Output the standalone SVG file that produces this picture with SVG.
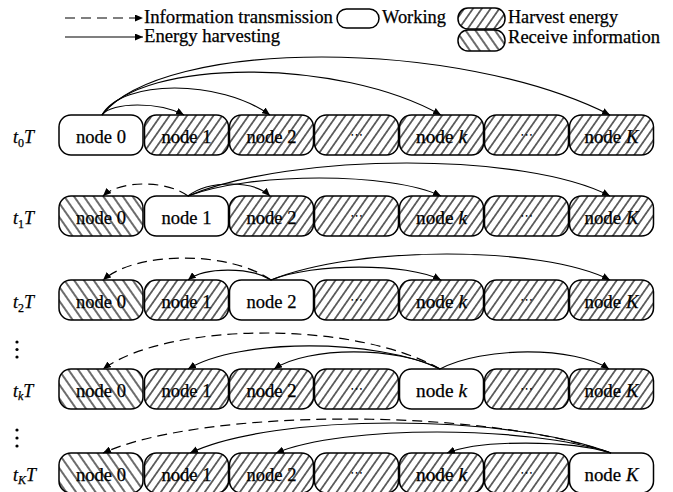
<svg xmlns="http://www.w3.org/2000/svg" width="673" height="492" viewBox="0 0 673 492">
<defs>
<style>
.box{stroke:#000;stroke-width:1.5}
.w{fill:#fff}
.h{fill:url(#fwd)}
.r{fill:url(#bwd)}
.t{font-family:"Liberation Serif","Times New Roman",serif;font-size:18px;fill:#000;stroke:#000;stroke-width:0.25}
.lbl{text-anchor:middle}
.el{font-family:"DejaVu Sans",sans-serif;font-size:13px;text-anchor:middle;fill:#000}
.i{font-style:italic}
.c{fill:none;stroke:#000;stroke-width:1.2;marker-end:url(#ah)}
.d{stroke-dasharray:10 6}
</style>
<pattern id="fwd" patternUnits="userSpaceOnUse" width="7.2" height="10" patternTransform="rotate(35)">
<rect width="7.2" height="10" fill="#fff"/>
<line x1="3.6" y1="0" x2="3.6" y2="10" stroke="#000" stroke-width="1.15"/>
</pattern>
<pattern id="bwd" patternUnits="userSpaceOnUse" width="8" height="10" patternTransform="rotate(-35)">
<rect width="8" height="10" fill="#fff"/>
<line x1="4" y1="0" x2="4" y2="10" stroke="#000" stroke-width="1.15"/>
</pattern>
<marker id="ah" markerUnits="userSpaceOnUse" markerWidth="9" markerHeight="7" refX="8" refY="3.5" orient="auto">
<path d="M0,0 L8,3.5 L0,7 Z" fill="#000"/>
</marker>
</defs>
<rect width="673" height="492" fill="#fff"/>

<g id="legend">
<path class="c d" d="M65,18 H143"/>
<text class="t" x="144" y="23" textLength="189" lengthAdjust="spacingAndGlyphs">Information transmission</text>
<path class="c" d="M65,37 H143"/>
<text class="t" x="144" y="42" textLength="136" lengthAdjust="spacingAndGlyphs">Energy harvesting</text>
<rect class="box w" x="337" y="9" width="42" height="19" rx="9.5"/>
<text class="t" x="382" y="23" textLength="64" lengthAdjust="spacingAndGlyphs">Working</text>
<rect class="box h" x="458" y="8" width="47" height="21" rx="10"/>
<text class="t" x="508" y="23" textLength="110" lengthAdjust="spacingAndGlyphs">Harvest energy</text>
<rect class="box r" x="458" y="30" width="47" height="21" rx="10"/>
<text class="t" x="508" y="43" textLength="152" lengthAdjust="spacingAndGlyphs">Receive information</text>
</g>

<g id="row-labels">
<text class="t" x="13" y="143"><tspan class="i">t</tspan><tspan font-size="12" dy="4">0</tspan><tspan class="i" dy="-4">T</tspan></text>
<text class="t" x="13" y="224"><tspan class="i">t</tspan><tspan font-size="12" dy="4">1</tspan><tspan class="i" dy="-4">T</tspan></text>
<text class="t" x="13" y="308"><tspan class="i">t</tspan><tspan font-size="12" dy="4">2</tspan><tspan class="i" dy="-4">T</tspan></text>
<text class="t" x="13" y="397"><tspan class="i">t</tspan><tspan class="i" font-size="12" dy="3">k</tspan><tspan class="i" dy="-3">T</tspan></text>
<text class="t" x="13" y="481"><tspan class="i">t</tspan><tspan class="i" font-size="12" dy="3">K</tspan><tspan class="i" dy="-3">T</tspan></text>
<g fill="#000">
<circle cx="17" cy="342" r="1.6"/><circle cx="17" cy="349.5" r="1.6"/><circle cx="17" cy="357" r="1.6"/>
<circle cx="17" cy="430" r="1.6"/><circle cx="17" cy="438" r="1.6"/><circle cx="17" cy="446" r="1.6"/>
</g>
</g>

<!-- Row t0T -->
<g id="r0-n0"><rect class="box w" x="59" y="115" width="84" height="40" rx="12"/><text class="t lbl" x="101" y="143" textLength="50" lengthAdjust="spacingAndGlyphs">node 0</text></g>
<g id="r0-n1"><rect class="box h" x="144.5" y="115" width="84" height="40" rx="12"/><text class="t lbl" x="186.5" y="143" textLength="50" lengthAdjust="spacingAndGlyphs">node 1</text></g>
<g id="r0-n2"><rect class="box h" x="229.5" y="115" width="84" height="40" rx="12"/><text class="t lbl" x="271.5" y="143" textLength="50" lengthAdjust="spacingAndGlyphs">node 2</text></g>
<g id="r0-e1"><rect class="box h" x="314.5" y="115" width="84" height="40" rx="12"/><text class="el" x="356.5" y="139">⋯</text></g>
<g id="r0-nk"><rect class="box h" x="399.5" y="115" width="84" height="40" rx="12"/><text class="t lbl" x="441.5" y="143" textLength="51" lengthAdjust="spacingAndGlyphs">node <tspan class="i">k</tspan></text></g>
<g id="r0-e2"><rect class="box h" x="484.5" y="115" width="84" height="40" rx="12"/><text class="el" x="526.5" y="139">⋯</text></g>
<g id="r0-nK"><rect class="box h" x="569.5" y="115" width="84" height="40" rx="12"/><text class="t lbl" x="611.5" y="143" textLength="54" lengthAdjust="spacingAndGlyphs">node <tspan class="i">K</tspan></text></g>

<!-- Row t1T -->
<g id="r1-n0"><rect class="box r" x="59" y="196" width="84" height="40" rx="12"/><text class="t lbl" x="101" y="224" textLength="50" lengthAdjust="spacingAndGlyphs">node 0</text></g>
<g id="r1-n1"><rect class="box w" x="144.5" y="196" width="84" height="40" rx="12"/><text class="t lbl" x="186.5" y="224" textLength="50" lengthAdjust="spacingAndGlyphs">node 1</text></g>
<g id="r1-n2"><rect class="box h" x="229.5" y="196" width="84" height="40" rx="12"/><text class="t lbl" x="271.5" y="224" textLength="50" lengthAdjust="spacingAndGlyphs">node 2</text></g>
<g id="r1-e1"><rect class="box h" x="314.5" y="196" width="84" height="40" rx="12"/><text class="el" x="356.5" y="220">⋯</text></g>
<g id="r1-nk"><rect class="box h" x="399.5" y="196" width="84" height="40" rx="12"/><text class="t lbl" x="441.5" y="224" textLength="51" lengthAdjust="spacingAndGlyphs">node <tspan class="i">k</tspan></text></g>
<g id="r1-e2"><rect class="box h" x="484.5" y="196" width="84" height="40" rx="12"/><text class="el" x="526.5" y="220">⋯</text></g>
<g id="r1-nK"><rect class="box h" x="569.5" y="196" width="84" height="40" rx="12"/><text class="t lbl" x="611.5" y="224" textLength="54" lengthAdjust="spacingAndGlyphs">node <tspan class="i">K</tspan></text></g>

<!-- Row t2T -->
<g id="r2-n0"><rect class="box r" x="59" y="280" width="84" height="40" rx="12"/><text class="t lbl" x="101" y="308" textLength="50" lengthAdjust="spacingAndGlyphs">node 0</text></g>
<g id="r2-n1"><rect class="box h" x="144.5" y="280" width="84" height="40" rx="12"/><text class="t lbl" x="186.5" y="308" textLength="50" lengthAdjust="spacingAndGlyphs">node 1</text></g>
<g id="r2-n2"><rect class="box w" x="229.5" y="280" width="84" height="40" rx="12"/><text class="t lbl" x="271.5" y="308" textLength="50" lengthAdjust="spacingAndGlyphs">node 2</text></g>
<g id="r2-e1"><rect class="box h" x="314.5" y="280" width="84" height="40" rx="12"/><text class="el" x="356.5" y="304">⋯</text></g>
<g id="r2-nk"><rect class="box h" x="399.5" y="280" width="84" height="40" rx="12"/><text class="t lbl" x="441.5" y="308" textLength="51" lengthAdjust="spacingAndGlyphs">node <tspan class="i">k</tspan></text></g>
<g id="r2-e2"><rect class="box h" x="484.5" y="280" width="84" height="40" rx="12"/><text class="el" x="526.5" y="304">⋯</text></g>
<g id="r2-nK"><rect class="box h" x="569.5" y="280" width="84" height="40" rx="12"/><text class="t lbl" x="611.5" y="308" textLength="54" lengthAdjust="spacingAndGlyphs">node <tspan class="i">K</tspan></text></g>

<!-- Row tkT -->
<g id="rk-n0"><rect class="box r" x="59" y="369" width="84" height="40" rx="12"/><text class="t lbl" x="101" y="397" textLength="50" lengthAdjust="spacingAndGlyphs">node 0</text></g>
<g id="rk-n1"><rect class="box h" x="144.5" y="369" width="84" height="40" rx="12"/><text class="t lbl" x="186.5" y="397" textLength="50" lengthAdjust="spacingAndGlyphs">node 1</text></g>
<g id="rk-n2"><rect class="box h" x="229.5" y="369" width="84" height="40" rx="12"/><text class="t lbl" x="271.5" y="397" textLength="50" lengthAdjust="spacingAndGlyphs">node 2</text></g>
<g id="rk-e1"><rect class="box h" x="314.5" y="369" width="84" height="40" rx="12"/><text class="el" x="356.5" y="393">⋯</text></g>
<g id="rk-nk"><rect class="box w" x="399.5" y="369" width="84" height="40" rx="12"/><text class="t lbl" x="441.5" y="397" textLength="51" lengthAdjust="spacingAndGlyphs">node <tspan class="i">k</tspan></text></g>
<g id="rk-e2"><rect class="box h" x="484.5" y="369" width="84" height="40" rx="12"/><text class="el" x="526.5" y="393">⋯</text></g>
<g id="rk-nK"><rect class="box h" x="569.5" y="369" width="84" height="40" rx="12"/><text class="t lbl" x="611.5" y="397" textLength="54" lengthAdjust="spacingAndGlyphs">node <tspan class="i">K</tspan></text></g>

<!-- Row tKT -->
<g id="rK-n0"><rect class="box r" x="59" y="453" width="84" height="40" rx="12"/><text class="t lbl" x="101" y="481" textLength="50" lengthAdjust="spacingAndGlyphs">node 0</text></g>
<g id="rK-n1"><rect class="box h" x="144.5" y="453" width="84" height="40" rx="12"/><text class="t lbl" x="186.5" y="481" textLength="50" lengthAdjust="spacingAndGlyphs">node 1</text></g>
<g id="rK-n2"><rect class="box h" x="229.5" y="453" width="84" height="40" rx="12"/><text class="t lbl" x="271.5" y="481" textLength="50" lengthAdjust="spacingAndGlyphs">node 2</text></g>
<g id="rK-e1"><rect class="box h" x="314.5" y="453" width="84" height="40" rx="12"/><text class="el" x="356.5" y="477">⋯</text></g>
<g id="rK-nk"><rect class="box h" x="399.5" y="453" width="84" height="40" rx="12"/><text class="t lbl" x="441.5" y="481" textLength="51" lengthAdjust="spacingAndGlyphs">node <tspan class="i">k</tspan></text></g>
<g id="rK-e2"><rect class="box h" x="484.5" y="453" width="84" height="40" rx="12"/><text class="el" x="526.5" y="477">⋯</text></g>
<g id="rK-nK"><rect class="box w" x="569.5" y="453" width="84" height="40" rx="12"/><text class="t lbl" x="611.5" y="481" textLength="54" lengthAdjust="spacingAndGlyphs">node <tspan class="i">K</tspan></text></g>

<g id="connectors">
<!-- t0T -->
<path class="c" d="M102,115 C111.8,101.7 159.4,101.7 184,115"/>
<path class="c" d="M102,115 C122.2,79 219.6,79 270,115"/>
<path class="c" d="M102,115 C142.7,57.7 339.3,57.7 441,115"/>
<path class="c" d="M102,115 C163,37.7 457.6,37.7 610,115"/>
<!-- t1T -->
<path class="c d" d="M188,196 C166.75,180 120,180 103,196"/>
<path class="c" d="M188,196 C208.5,180 253.6,180 270,196"/>
<path class="c" d="M188,196 C251.25,172 390.4,172 441,196"/>
<path class="c" d="M188,196 C293.5,152 525.6,152 610,196"/>
<!-- t2T -->
<path class="c d" d="M271,280 C229,250.7 136.6,250.7 103,280"/>
<path class="c" d="M271,280 C250.25,266.7 204.6,266.7 188,280"/>
<path class="c" d="M271,280 C313.5,262.7 407,262.7 441,280"/>
<path class="c" d="M271,280 C355.75,245.3 542.2,245.3 610,280"/>
<!-- tkT -->
<path class="c d" d="M440,369 C355.75,321 170.4,321 103,369"/>
<path class="c" d="M440,369 C377,338.3 238.4,338.3 188,369"/>
<path class="c" d="M440,369 C398.5,346.3 307.2,346.3 274,369"/>
<path class="c" d="M440,369 C482.25,346.3 575.2,346.3 609,369"/>
<!-- tKT -->
<path class="c d" d="M611,453 C484,407.7 204.6,407.7 103,453"/>
<path class="c" d="M611,453 C505.75,413 274.2,413 190,453"/>
<path class="c" d="M611,453 C527.25,425 343,425 276,453"/>
<path class="c" d="M611,453 C570,439.7 479.8,439.7 447,453"/>
</g>
</svg>
